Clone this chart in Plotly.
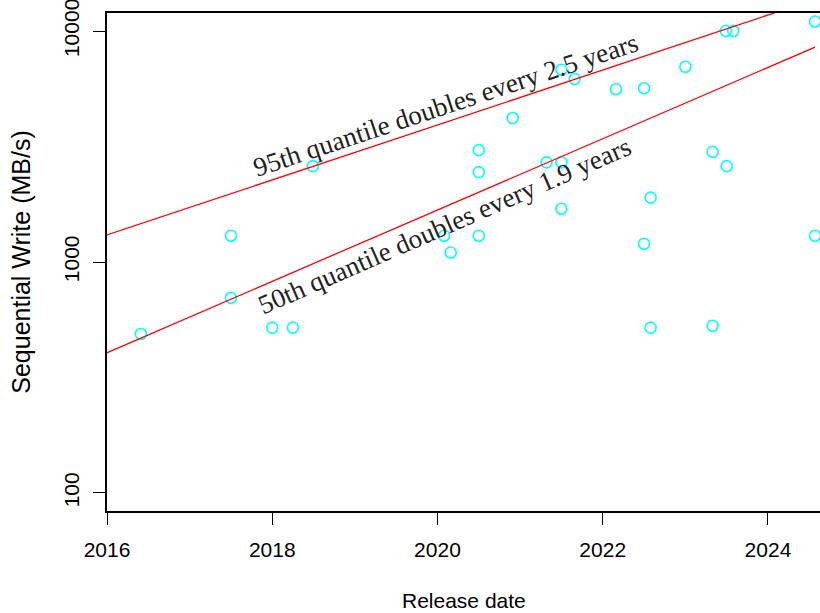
import numpy as np
import plotly.graph_objects as go

# Data
release_date = [2016.41, 2017.50, 2017.50, 2018.00, 2018.25, 2018.49,
                2020.08, 2020.16, 2020.50, 2020.50, 2020.50, 2020.91,
                2021.32, 2021.50, 2021.50, 2021.50, 2021.66, 2022.16,
                2022.50, 2022.50, 2022.58, 2022.58, 2023.00, 2023.33,
                2023.33, 2023.49, 2023.50, 2023.58, 2024.57, 2024.57]
seq_write = [488, 1300, 700, 520, 520, 2600,
             1300, 1100, 3050, 2450, 1300, 4200,
             2700, 2700, 1700, 6800, 6200, 5600,
             5650, 1200, 1900, 520, 7000, 3000,
             530, 10000, 2600, 10000, 11000, 1300]

# Quantile fit lines: value at 2016 and doubling time (years)
q95_at_2016, q95_doubling = 1310, 2.53
q50_at_2016, q50_doubling = 405, 1.95
fit_x = [2015.5, 2024.57]

y_ticks = [100, 1000, 10000]
x_ticks = [2016, 2018, 2020, 2022, 2024]

def fit_line(v0, dbl):
    xs = np.array(fit_x)
    return v0 * 2 ** ((xs - 2016) / dbl)

fig = go.Figure()
fig.add_trace(go.Scatter(
    x=release_date, y=seq_write, mode="markers",
    marker=dict(symbol="circle-open", size=11, color="#00FFFF",
                line=dict(width=1.6, color="#00FFFF")),
    cliponaxis=False, showlegend=False))
for v0, dbl in [(q95_at_2016, q95_doubling), (q50_at_2016, q50_doubling)]:
    fig.add_trace(go.Scatter(x=fit_x, y=fit_line(v0, dbl), mode="lines",
                             line=dict(color="red", width=1.3),
                             showlegend=False))

serif = "Liberation Serif"
fig.add_annotation(x=2020.10, y=np.log10(4790), text="95th quantile doubles every 2.5 years",
                   showarrow=False, textangle=-18.3,
                   font=dict(family=serif, size=27, color="#222222"))
fig.add_annotation(x=2020.08, y=np.log10(1430), text="50th quantile doubles every 1.9 years",
                   showarrow=False, textangle=-23.6,
                   font=dict(family=serif, size=27, color="#222222"))
# x-axis title placed as in the reference
fig.add_annotation(x=0.5, xref="paper", y=-89 / 498, yref="paper",
                   text="Release date", showarrow=False, yanchor="middle",
                   font=dict(size=21, color="black"))

fig.update_layout(
    width=820, height=613,
    margin=dict(l=107, r=0, t=13, b=102),
    paper_bgcolor="white", plot_bgcolor="white",
    font=dict(family="Liberation Sans, Arial, sans-serif", size=21, color="black"),
    xaxis=dict(range=[2016.0, 2024.63], tickvals=x_ticks, ticks="outside",
               ticklen=12, tickcolor="black", tickwidth=1,
               ticklabelstandoff=7, ticklabeloverflow="allow",
               showline=True, linecolor="black", linewidth=1.5, mirror=True,
               showgrid=False, zeroline=False, automargin=False),
    yaxis=dict(type="log", range=[1.922, 4.078], tickvals=y_ticks,
               ticktext=[str(v) for v in y_ticks], tickangle=-90,
               ticks="outside", ticklen=12, tickcolor="black", tickwidth=1,
               ticklabelstandoff=6, ticklabeloverflow="allow",
               showline=True, linecolor="black", linewidth=1.5, mirror=False,
               showgrid=False, zeroline=False, automargin=False,
               title=dict(text="Sequential Write (MB/s)", standoff=22)),
)

fig.write_html("out.html", default_width="820px", default_height="613px",
               config={"displayModeBar": False},
               post_script="document.body.style.margin='0';"
                           "document.body.style.overflow='hidden';")
